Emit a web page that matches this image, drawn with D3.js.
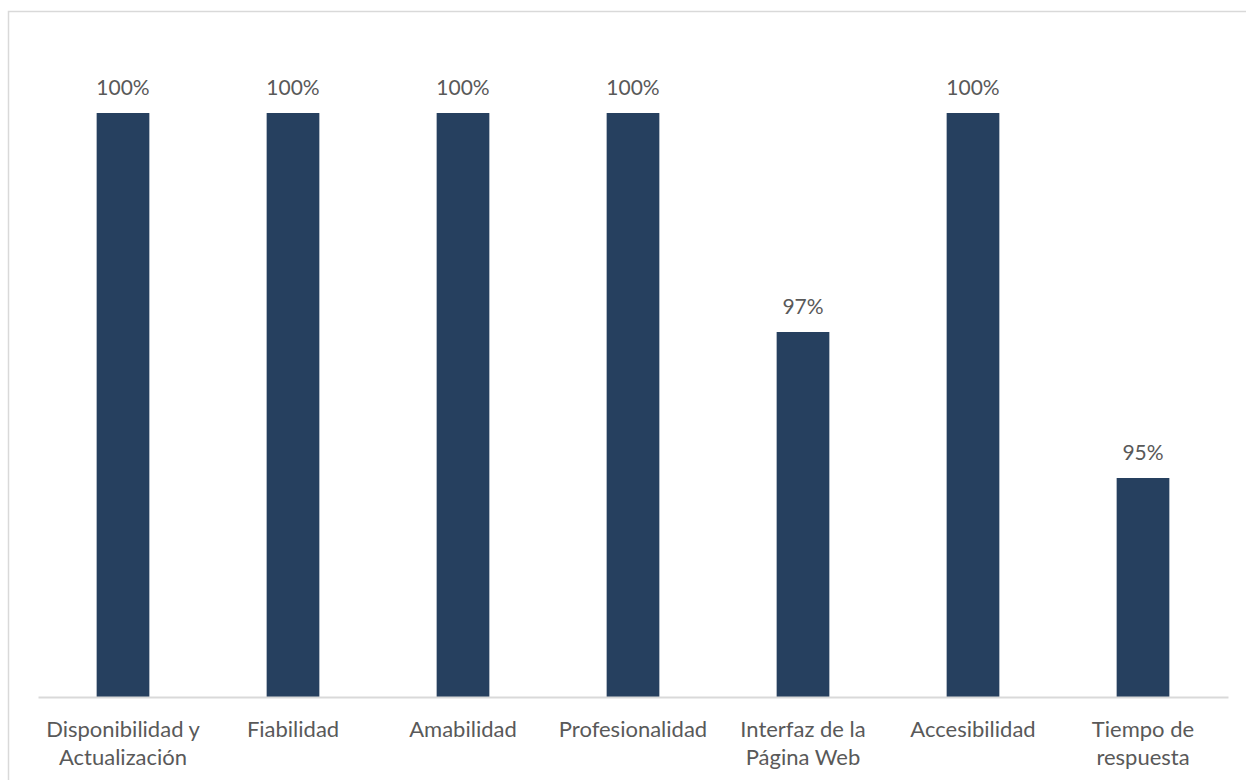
<!DOCTYPE html>
<html lang="es">
<head>
<meta charset="utf-8">
<script src="https://cdn.jsdelivr.net/npm/d3@7/dist/d3.min.js"></script>
<style>
  html, body { margin: 0; padding: 0; background: #ffffff; }
  svg { display: block; overflow: hidden; }
  text { font-family: Lato, "Open Sans", sans-serif; fill: #595959; }
</style>
</head>
<body>
<svg id="chart" width="1246" height="780"></svg>
<script>
// Satisfacción por dimensión del servicio
const categories = [
  "Disponibilidad y Actualización",
  "Fiabilidad",
  "Amabilidad",
  "Profesionalidad",
  "Interfaz de la Página Web",
  "Accesibilidad",
  "Tiempo de respuesta"
];
const values = [1.00, 1.00, 1.00, 1.00, 0.97, 1.00, 0.95];
const yDomain = [0.92, 1.00];

const W = 1246, H = 780;
const plot = { left: 38, right: 1228, top: 113, bottom: 697 };

const svg = d3.select("#chart");

// outer chart frame (runs off the right and bottom edges)
svg.append("rect")
  .attr("x", 8.5).attr("y", 11.5)
  .attr("width", W + 40).attr("height", H + 40)
  .attr("fill", "none")
  .attr("stroke", "#d9d9d9")
  .attr("stroke-width", 1.5);

const x = d3.scaleBand()
  .domain(categories)
  .range([plot.left, plot.right])
  .paddingInner(0.69)
  .paddingOuter(0.345);

const y = d3.scaleLinear()
  .domain(yDomain)
  .range([plot.bottom, plot.top]);

const fmt = d3.format(".0%");

// bars
svg.append("g")
  .selectAll("rect")
  .data(values)
  .join("rect")
  .attr("x", (d, i) => x(categories[i]))
  .attr("y", d => y(d))
  .attr("width", x.bandwidth())
  .attr("height", d => y(yDomain[0]) - y(d))
  .attr("fill", "#26405f");

// value labels
svg.append("g")
  .selectAll("text")
  .data(values)
  .join("text")
  .attr("x", (d, i) => x(categories[i]) + x.bandwidth() / 2)
  .attr("y", d => y(d) - 18)
  .attr("text-anchor", "middle")
  .style("font-size", "21px")
  .text(d => fmt(d));

// category axis
const axis = svg.append("g")
  .attr("transform", `translate(0,${plot.bottom})`)
  .call(d3.axisBottom(x).tickSize(0).tickSizeOuter(0).tickPadding(0));

axis.select(".domain")
  .attr("stroke", "#d9d9d9")
  .attr("stroke-width", 2);

axis.selectAll(".tick text")
  .style("font-size", "22px")
  .attr("fill", "#595959")
  .attr("dy", null)
  .attr("y", 40)
  .each(function (label) {
    // wrap long category names over several centred lines
    const t = d3.select(this);
    const words = label.split(" ");
    const maxW = 168;
    const lines = [];
    let cur = [];
    t.text(null);
    const probe = t.append("tspan");
    words.forEach(w => {
      const trial = cur.concat(w).join(" ");
      probe.text(trial);
      if (probe.node().getComputedTextLength() > maxW && cur.length) {
        lines.push(cur.join(" "));
        cur = [w];
      } else {
        cur.push(w);
      }
    });
    lines.push(cur.join(" "));
    probe.remove();
    lines.forEach((ln, k) => {
      t.append("tspan")
        .attr("x", 0)
        .attr("y", 40 + k * 28)
        .text(ln);
    });
  });
</script>
</body>
</html>
